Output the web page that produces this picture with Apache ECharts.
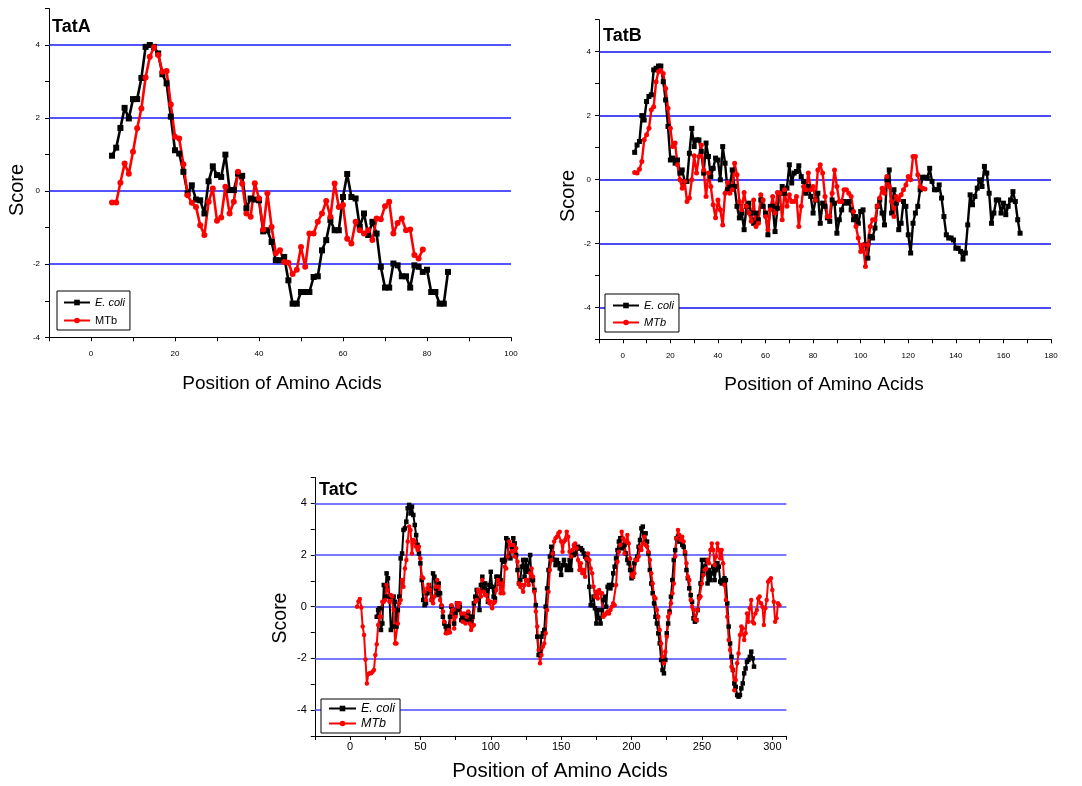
<!DOCTYPE html>
<html><head><meta charset="utf-8">
<script src="https://cdn.jsdelivr.net/npm/echarts@6/dist/echarts.min.js"></script>
<style>html,body{margin:0;padding:0;background:#fff}#c{width:1082px;height:786px}</style>
</head><body><div id="c"></div>
<script>
// ---------- data ----------
const seriesNames = ['E. coli', 'MTb'];

const tatAEcoliStart = 5;
const tatAEcoli = [0.97,1.19,1.73,2.28,1.99,2.52,2.52,3.1,3.95,4.0,
3.95,3.77,3.2,2.95,2.04,1.12,1.03,0.53,-0.06,0.16,
-0.23,-0.25,-0.61,0.27,0.68,0.44,0.39,1.0,0.03,0.03,
0.48,0.42,-0.47,-0.2,-0.23,-0.25,-1.1,-1.07,-1.39,-1.89,
-1.89,-1.8,-2.44,-3.08,-3.08,-2.76,-2.76,-2.76,-2.35,-2.33,
-1.62,-1.34,-0.79,-1.07,-1.07,-0.16,0.47,-0.16,-0.2,-0.98,
-0.61,-1.2,-0.84,-1.16,-2.07,-2.64,-2.64,-1.98,-2.03,-2.33,
-2.33,-2.64,-2.03,-2.07,-2.21,-2.15,-2.76,-2.76,-3.08,-3.08,-2.21];

const tatAMtbStart = 5;
const tatAMtb = [-0.31,-0.31,0.23,0.76,0.48,1.08,1.72,2.26,3.11,3.68,
3.94,3.73,3.27,3.29,2.37,1.49,1.44,0.74,-0.11,-0.32,
-0.43,-0.93,-1.2,-0.29,0.07,-0.81,-0.72,0.12,-0.61,-0.29,
0.53,0.2,-0.61,-0.7,0.22,-0.2,-1.05,-0.06,-0.98,-1.7,
-1.62,-1.94,-1.96,-2.27,-2.15,-1.53,-2.07,-1.16,-1.16,-0.84,
-0.61,-0.27,-0.7,0.21,-0.43,-0.38,-1.3,-1.43,-0.84,-1.07,
-1.16,-1.07,-1.34,-0.75,-0.77,-0.41,-0.29,-1.16,-0.87,-0.75,
-1.07,-1.05,-1.75,-1.84,-1.6];

const tatBEcoliStart = 5;
const tatBEcoli = [0.85,1.08,1.19,2.0,1.86,2.44,2.6,2.65,3.43,3.48,
3.55,3.55,3.06,2.49,1.66,0.61,0.67,0.51,0.61,0.2,
0.3,-0.06,-0.06,0.82,1.6,1.03,1.24,1.24,0.88,0.2,
1.14,0.72,0.09,0.35,0.67,0.61,-0.01,1.03,0.51,-0.32,
-0.22,0.3,-0.22,-0.84,-1.2,-1.05,-1.57,-0.84,-0.74,-1.05,
-1.37,-1.05,-1.26,-0.64,-0.84,-1.05,-1.73,-0.84,-0.84,-1.63,
-0.9,-0.43,-0.22,-0.43,-0.27,0.46,-0.11,0.2,0.25,0.43,
0.09,-0.06,-0.43,-0.22,-0.53,-1.05,-0.64,-0.43,-1.37,-0.74,
-0.84,-1.2,-1.31,-0.64,-0.74,-1.68,-1.26,-0.95,-0.69,-0.74,
-0.69,-0.95,-1.26,-1.16,-1.37,-1.0,-0.95,-2.04,-2.46,-1.78,
-1.83,-1.52,-0.84,-0.64,-1.05,-1.42,-0.01,0.3,-1.05,-0.32,
-0.74,-1.57,-1.37,-0.69,-0.84,-1.73,-2.3,-1.37,-1.05,-0.84,
-0.32,0.07,0.07,0.04,0.35,-0.06,-0.32,-0.32,-0.17,-0.58,
-1.16,-1.73,-1.83,-1.83,-1.89,-2.15,-2.15,-2.25,-2.49,-2.3,
-1.42,-0.48,-0.79,-0.53,-0.27,-0.01,-0.22,0.41,0.2,-0.43,
-1.37,-1.05,-0.64,-0.64,-1.05,-0.74,-1.1,-0.84,-0.64,-0.38,
-0.69,-1.26,-1.68];

const tatBMtbStart = 5;
const tatBMtb = [0.22,0.2,0.32,0.56,1.24,1.4,1.6,2.18,2.28,3.06,
3.38,3.41,3.32,2.85,2.23,1.6,1.03,1.14,0.46,-0.01,
-0.27,-0.06,-0.69,-0.58,-0.01,0.74,0.2,0.72,1.08,0.3,
-0.53,0.2,-0.22,-0.79,-1.2,-0.64,-0.95,-1.42,-0.43,-0.09,
-0.43,-0.32,0.51,0.15,-0.69,-0.95,-0.41,-0.84,-1.05,-1.31,
-0.64,-1.47,-1.37,-0.48,-0.64,-1.16,-1.57,-0.95,-0.53,-1.05,
-0.41,-0.43,-1.26,-0.32,-0.84,-0.48,-0.69,-0.69,-0.53,-1.47,
-0.84,-0.22,-0.32,0.2,-0.32,-0.22,-0.64,0.3,0.46,0.2,
-0.53,-1.16,-1.16,-0.43,0.3,-0.22,-0.69,-0.69,-0.32,-0.32,
-0.43,-0.53,-1.0,-1.47,-1.83,-2.25,-2.04,-2.72,-2.04,-1.47,
-1.26,-1.26,-0.84,-0.58,-0.27,-0.43,0.09,-0.22,-0.69,-1.16,
-0.53,-0.64,-0.48,-0.32,-0.17,0.09,-0.01,0.72,0.72,0.15,
-0.22,-0.27,-0.3];

const tatCEcoliStart = 19;
const tatCEcoli = [-0.39,-0.13,-0.06,-0.9,-0.65,0.84,
0.39,1.29,1.1,0.39,-0.9,-0.77,0.39,0.19,-0.77,-0.13,
0.39,1.87,2.06,2.97,3.03,3.29,3.81,3.94,3.61,3.87,
3.55,3.16,2.77,2.39,2.06,1.68,1.03,0.26,0.06,0.13,
0.52,0.84,0.65,0.26,1.29,1.16,0.71,0.45,0.9,0.52,
0,-0.39,-0.65,-0.77,-0.9,-0.77,-0.39,0,-0.13,-0.65,
-0.26,0.13,-0.13,0,-0.52,-0.39,-0.45,-0.32,-0.52,-0.26,
-0.39,-0.58,-0.39,0.13,0.39,0.65,0.32,-0.13,0.84,1.16,
0.71,0.9,0.65,0.19,0.84,1.35,0.77,0.39,0.32,1.16,
1.16,0.9,1.03,1.81,1.74,1.81,2.65,2.58,1.94,1.87,
2.32,2.65,2.45,2.0,1.42,0.9,1.03,1.55,1.81,1.16,
1.81,1.35,1.42,2.0,1.03,1.03,0.65,0.06,-1.16,-1.87,
-1.74,-1.16,-1.03,-0.9,0,0.71,1.42,1.94,2.32,2.06,
1.81,1.61,1.81,1.68,1.48,1.23,1.61,1.81,1.61,1.42,
1.55,1.81,1.42,2.0,2.0,2.06,2.26,2.32,2.26,2.26,
2.19,2.06,1.94,1.87,1.81,0.77,0.06,0.06,0.39,-0.06,
-0.65,-0.13,-0.45,-0.65,-0.13,0.26,0.39,0,0.77,0.84,
0.71,0.84,1.29,1.55,1.87,2.19,2.52,2.65,2.26,2.32,
2.39,2.06,1.81,1.68,1.42,1.1,1.16,1.68,1.81,1.94,
2.32,2.58,3.03,3.1,2.77,2.84,2.52,2.06,1.42,0.9,
0.52,0.13,-0.39,-0.65,-1.03,-1.42,-2.06,-2.45,-2.58,-2.06,
-1.03,-0.65,-0.19,0.39,1.03,1.81,2.19,2.65,2.71,2.52,
2.58,2.39,2.32,2.06,1.42,1.1,0.71,0.45,0.19,-0.45,
-0.58,-0.52,-0.13,0.39,0.9,1.81,1.29,1.55,1.81,0.9,
1.42,1.03,1.29,1.55,1.03,1.42,1.68,1.55,0.97,0.9,
1.03,1.1,1.03,0.13,-0.77,-1.42,-1.94,-2.45,-2.97,-3.1,
-3.42,-3.48,-3.42,-3.16,-2.97,-2.58,-2.39,-2.13,-2.06,-1.94,
-1.74,-2.0,-2.32];

const tatCMtbStart = 5;
const tatCMtb = [0,0.2,0.3,-0.03,-0.77,-1.1,-2.04,-2.97,-2.6,-2.58,
-2.58,-2.52,-2.45,-1.87,-1.45,-0.71,-0.39,-0.39,0.19,0.19,
0.26,0.84,0.65,0.19,0.45,0.39,-0.13,-1.42,-1.42,-0.65,
0.13,0.26,1.03,0.77,1.48,1.81,2.52,3.1,2.97,2.06,
2.58,2.52,2.32,2.19,2.32,1.87,1.16,1.1,0.58,0.26,
0.71,0.84,0.65,0.26,0.13,0.39,0.77,1.03,0.77,0.26,
0.06,-0.19,-0.58,-1.03,-1.03,-0.9,-1.0,0.06,-0.13,-0.84,
-0.39,0.13,0,0.13,-0.26,-0.58,-0.26,-0.65,-0.39,-0.19,
-0.65,-0.9,-0.77,-0.71,0.19,0.26,0.65,0.58,0.39,1.03,
0.58,0.45,0.45,0.26,0.13,0.19,-0.06,0.13,0.19,0.65,
1.03,0.9,0.52,0.9,0.52,1.55,1.48,1.94,2.52,2.39,
2.13,2.39,1.94,2.26,1.74,0.9,0.77,0.84,0.58,0.84,
1.03,1.03,0.84,1.29,1.48,1.16,0.58,-0.19,-0.77,-1.68,
-2.19,-1.87,-1.55,-1.42,-1.03,-0.13,0.58,1.42,1.81,2.06,
2.52,2.65,2.71,2.84,2.9,2.52,2.13,2.52,2.58,2.9,
2.71,2.13,1.94,2.19,2.39,2.45,2.26,1.81,1.42,1.68,
1.29,1.42,1.16,1.87,2.06,1.81,1.48,1.29,0.77,0.39,
0.58,0.32,0.65,0.52,0.52,-0.39,-0.32,-0.26,-0.19,-0.26,
-0.13,0,0.13,0.06,0.84,1.74,2.13,2.39,2.9,2.65,
2.06,2.52,2.77,2.45,1.87,1.23,1.16,1.29,1.81,1.81,
1.94,2.32,2.19,2.45,2.71,2.39,2.32,2.13,1.81,1.29,
0.9,0.39,0.32,-0.13,-0.39,-0.9,-1.42,-1.94,-2.19,-1.74,
-1.16,-0.39,-0.26,0.13,0.52,0.9,1.94,2.65,2.97,2.77,
2.58,2.71,2.52,2.13,1.68,1.16,1.03,0.26,0,-0.13,
-0.45,-0.52,-0.13,0.32,0.39,0.9,1.23,1.42,1.48,1.81,
1.68,2.19,2.45,2.19,1.61,1.94,2.45,2.19,1.87,2.19,
1.68,0.84,0.26,-0.39,-1.29,-1.68,-2.32,-2.45,-3.23,-2.84,
-2.19,-1.81,-1.1,-0.77,-0.84,-1.29,-1.03,-0.26,-0.58,-0.06,
0.26,-0.58,-0.65,-0.26,-0.13,0.32,0.39,0.13,0,-0.71,
-0.06,0.26,0.97,1.03,1.1,0.65,0.19,-0.58,-0.45,0.13,0.06];

const gridLevelsA = [4, 2, 0, -2];
const gridLevelsBC = [4, 2, 0, -2, -4];
const panelTitles = ['TatA', 'TatB', 'TatC'];
const xTitle = 'Position of Amino Acids';
const yTitle = 'Score';

// ---------- build ----------
function pairs(start, vals) { return vals.map((v, i) => [start + i, v]); }
const FONT = 'Liberation Sans, Arial, sans-serif';

const chart = echarts.init(document.getElementById('c'));

const grids = [
  { left: 49, top: 8.5, width: 462, height: 328.8 },
  { left: 599, top: 19.7, width: 452, height: 319.6 },
  { left: 314.8, top: 477.5, width: 471.6, height: 258.4 }
];

function xAxis(idx, min, max, interval, step, fs, margin) {
  return {
    type: 'value', gridIndex: idx, min: min, max: max, interval: interval,
    axisLine: { show: true, onZero: false, lineStyle: { color: '#000', width: 1 } },
    axisTick: { show: true, length: 4, lineStyle: { color: '#000' } },
    splitLine: { show: false },
    axisLabel: { fontSize: fs, fontFamily: FONT, color: '#000', margin: margin,
      formatter: v => (v >= 0 && v % step === 0) ? String(v) : '' }
  };
}
function yAxis(idx, min, max, fs, margin) {
  return {
    type: 'value', gridIndex: idx, min: min, max: max, interval: 1,
    axisLine: { show: true, onZero: false, lineStyle: { color: '#000', width: 1 } },
    axisTick: { show: true, length: 4, lineStyle: { color: '#000' } },
    splitLine: { show: false },
    axisLabel: { fontSize: fs, fontFamily: FONT, color: '#000', margin: margin,
      formatter: v => (v % 2 === 0) ? String(v) : '' }
  };
}

function markLines(levels, color) {
  return {
    silent: true, z: 1, symbol: ['none', 'none'], label: { show: false },
    lineStyle: { color: color, type: 'solid', width: 1.5, opacity: 1 },
    emphasis: { disabled: true },
    data: levels.map(v => ({ yAxis: v }))
  };
}

function lineSeries(idx, name, data, color, symbol, size, width, ml) {
  const s = {
    type: 'line', name: name, xAxisIndex: idx, yAxisIndex: idx, data: data,
    symbol: symbol, symbolSize: size, showAllSymbol: true,
    lineStyle: { color: color, width: width },
    itemStyle: { color: color },
    z: 2, animation: false
  };
  if (ml) s.markLine = ml;
  return s;
}

function legend(idx, left, top, pad, gap, iw, ih, fs, mtbItalic) {
  return {
    orient: 'vertical', left: left, top: top, padding: pad, itemGap: gap,
    itemWidth: iw, itemHeight: ih,
    borderColor: '#000', borderWidth: 1, backgroundColor: '#fff',
    data: seriesNames, selectedMode: false,
    formatter: n => n === 'E. coli' ? '{i|' + n + '}' : (mtbItalic ? '{i|' + n + '}' : '{n|' + n + '}'),
    textStyle: { fontFamily: FONT, fontSize: fs, color: '#000',
      rich: { i: { fontStyle: 'italic', fontFamily: FONT, fontSize: fs, color: '#000' },
              n: { fontFamily: FONT, fontSize: fs, color: '#000' } } }
  };
}

function txt(text, x, y, size, bold, rot) {
  return { type: 'text', x: x, y: y, rotation: rot || 0, silent: true, z: 10,
    style: { text: text, fill: '#000', font: (bold ? 'bold ' : '') + size + 'px ' + FONT,
      textAlign: bold ? 'left' : 'center', textVerticalAlign: 'middle' } };
}

const option = {
  animation: false,
  backgroundColor: '#fff',
  grid: grids,
  xAxis: [
    xAxis(0, -10, 100, 10, 20, 8, 12),
    xAxis(1, -10, 180, 10, 20, 8, 12),
    xAxis(2, -25, 310, 25, 50, 11, 6)
  ],
  yAxis: [
    yAxis(0, -4, 5, 8, 9),
    yAxis(1, -5, 5, 8, 8),
    yAxis(2, -5, 5, 11, 8)
  ],
  legend: [
    legend(0, 57, 291, [6, 5, 4, 6], 7, 26, 7, 11, false),
    legend(1, 605, 294, [6, 5, 4, 7], 6, 26, 7, 11, true),
    legend(2, 321, 699, [3, 5, 3, 7], 2, 27, 7, 12.5, true)
  ],
  series: [
    lineSeries(0, 'E. coli', pairs(tatAEcoliStart, tatAEcoli), '#000', 'rect', 6, 2.6, markLines(gridLevelsA, '#1a1aff')),
    lineSeries(0, 'MTb', pairs(tatAMtbStart, tatAMtb), '#ff0000', 'circle', 6, 2.6),
    lineSeries(1, 'E. coli', pairs(tatBEcoliStart, tatBEcoli), '#000', 'rect', 5, 2.4, markLines(gridLevelsBC, '#1010f0')),
    lineSeries(1, 'MTb', pairs(tatBMtbStart, tatBMtb), '#ff0000', 'circle', 5, 2.4),
    lineSeries(2, 'E. coli', pairs(tatCEcoliStart, tatCEcoli), '#000', 'rect', 4.5, 2, markLines(gridLevelsBC, '#4a4aff')),
    lineSeries(2, 'MTb', pairs(tatCMtbStart, tatCMtb), '#ff0000', 'circle', 4.5, 2)
  ],
  graphic: [
    txt(panelTitles[0], 52, 27, 18, true),
    txt(panelTitles[1], 603, 36, 18, true),
    txt(panelTitles[2], 319, 490, 18, true),
    txt(yTitle, 17, 190, 20, false, Math.PI / 2),
    txt(yTitle, 568, 196, 20, false, Math.PI / 2),
    txt(yTitle, 281, 618, 19.5, false, Math.PI / 2),
    txt(xTitle, 282, 384, 19, false),
    txt(xTitle, 824, 385, 19, false),
    txt(xTitle, 560, 771, 20.5, false)
  ]
};
chart.setOption(option);
</script>
</body></html>
